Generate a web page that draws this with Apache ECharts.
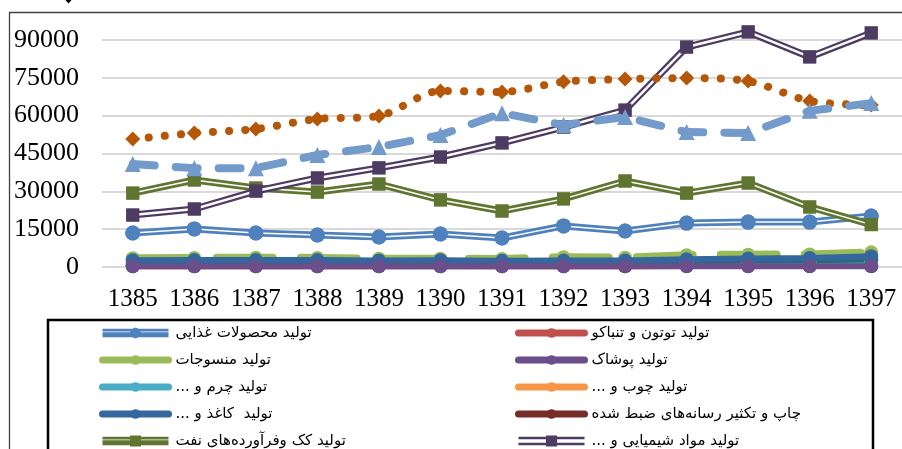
<!DOCTYPE html>
<html>
<head>
<meta charset="utf-8">
<script src="https://cdn.jsdelivr.net/npm/echarts@6/dist/echarts.min.js"></script>
<style>
  html, body { margin: 0; padding: 0; background: #fff; }
  #chart { width: 902px; height: 449px; }
</style>
</head>
<body>
<div id="chart" dir="rtl"></div>
<script>
// سال‌ها
const years = ['1385', '1386', '1387', '1388', '1389', '1390', '1391', '1392', '1393', '1394', '1395', '1396', '1397']

// مقادیر هر رشته
const food = [13500, 15100, 13500, 12700, 11900, 13100, 11500, 16300, 14300, 17400, 17800, 17800, 20200]
const tobacco = [700, 700, 750, 750, 800, 800, 800, 900, 900, 1000, 1100, 1100, 1200]
const textiles = [3500, 3600, 3700, 3600, 3300, 3300, 3200, 3900, 3700, 4700, 4900, 5000, 5800]
const apparel = [250, 250, 250, 250, 250, 250, 250, 250, 250, 250, 250, 250, 250]
const leather = [1300, 1300, 1400, 1400, 1400, 1400, 1300, 1500, 1500, 1900, 2100, 2100, 2300]
const wood = [900, 900, 950, 950, 900, 900, 900, 1000, 1000, 1100, 1200, 1200, 1300]
const paper = [2700, 2800, 2800, 2800, 2600, 2700, 2500, 2600, 2600, 3100, 3400, 3600, 4300]
const printing = [300, 300, 300, 300, 300, 300, 300, 300, 300, 350, 350, 350, 400]
const coke = [29300, 34500, 31300, 29700, 32900, 26600, 22200, 27000, 34100, 29300, 33300, 23800, 16800]
const chemicals = [20600, 23000, 30100, 35300, 39300, 43600, 49200, 55500, 62200, 87200, 93200, 83300, 92800]
const rubber = [1800, 1900, 1900, 1900, 1800, 1800, 1700, 1900, 1900, 2400, 2600, 2700, 3000]
const minerals = [50700, 53100, 54700, 58700, 59900, 69800, 69400, 73400, 74500, 74900, 73700, 65800, 64200]
const metals = [40800, 39200, 39200, 44400, 47600, 52300, 61000, 56300, 59500, 53500, 53100, 61900, 65000]

const names = {
  food: 'تولید محصولات غذایی',
  tobacco: 'تولید توتون و تنباکو',
  textiles: 'تولید منسوجات',
  apparel: 'تولید پوشاک',
  leather: 'تولید چرم و ...',
  wood: 'تولید چوب و ...',
  paper: 'تولید  کاغذ و ...',
  printing: 'چاپ و تکثیر رسانه‌های ضبط شده',
  coke: 'تولید کک وفرآورده‌های نفت',
  chemicals: 'تولید مواد شیمیایی و ...',
  rubber: 'تولید محصولات لاستیکی و پلاستیکی',
  minerals: 'تولید سایر محصولات کانی غیرفلزی',
  metals: 'تولید فلزات پایه'
}

function simpleLine(name, data, color, z, extra) {
  return Object.assign({
    name,
    type: 'line',
    data,
    z,
    clip: false,
    symbol: 'circle',
    symbolSize: 14,
    lineStyle: { color, width: 6, cap: 'round' },
    itemStyle: { color, borderWidth: 0 },
  }, extra || {})
}

// خط دوتایی: خط اصلی، خط سفید میانی، نشانگرها روی آن
function doubleLine(name, data, color, symbol, size, width, whiteWidth, z) {
  return [
    {
      name, type: 'line', data, z, clip: false, symbol, symbolSize: size,
      lineStyle: { color, width },
      itemStyle: { color, borderWidth: 0 }
    },
    {
      name: name + '_w', type: 'line', data, z: z + 1, clip: false, symbol: 'none',
      lineStyle: { color: '#fff', width: whiteWidth }
    },
    {
      name: name + '_m', type: 'line', data, z: z + 2, clip: false, symbol, symbolSize: size,
      lineStyle: { opacity: 0 },
      itemStyle: { color, borderWidth: 0 }
    }
  ]
}

const iconFood = 'path://M0,1.8H66V4.4H0Z M0,5.3H66V10.2H0Z M33,0.5L36.9,2.1L38.5,6L36.9,9.9L33,11.5L29.1,9.9L27.5,6L29.1,2.1Z'
const iconCoke = 'path://M0,1.8H66V4.4H0Z M0,5.3H66V10.2H0Z M27.5,0.5H38.5V11.5H27.5Z'
const iconChem = 'path://M0,1.8H66V4.3H0Z M0,7.7H66V10.2H0Z M27.5,0.5H38.5V11.5H27.5Z'
const plainIcon = { borderWidth: 0, borderColor: 'transparent' }

const legendBase = {
  orient: 'vertical',
  top: 324,
  height: 160,
  padding: 0,
  itemWidth: 66,
  itemHeight: 12,
  itemGap: 9,
  selectedMode: false,
  itemStyle: { borderWidth: 0 },
  lineStyle: { width: 7, cap: 'round', type: 'solid' },
  textStyle: {
    fontFamily: 'DejaVu Sans',
    fontSize: 15,
    lineHeight: 18,
    color: '#000',
    padding: [0, 0, 0, 2]
  }
}

const chart = echarts.init(document.getElementById('chart'), null, { renderer: 'canvas' })

chart.setOption({
  animation: false,
  backgroundColor: '#fff',
  grid: { left: 102, top: 40, width: 802, height: 227 },
  xAxis: {
    type: 'category',
    data: years,
    axisLine: { show: false },
    axisTick: { show: false },
    axisLabel: { interval: 0, margin: 20, color: '#000', fontSize: 25, fontFamily: 'Liberation Serif' }
  },
  yAxis: {
    type: 'value',
    min: 0,
    max: 90000,
    interval: 15000,
    axisLine: { show: false },
    axisTick: { show: false },
    axisLabel: {
      margin: 23, color: '#000', fontSize: 26, fontFamily: 'Liberation Serif',
      formatter: (v) => String(v)
    },
    splitLine: { lineStyle: { color: '#d9d9d9', width: 2 } }
  },
  legend: [
    Object.assign({}, legendBase, {
      left: 99,
      data: [
        { name: names.food, icon: iconFood, itemStyle: plainIcon },
        names.textiles,
        names.leather,
        names.paper,
        { name: names.coke, icon: iconCoke, itemStyle: plainIcon }
      ]
    }),
    Object.assign({}, legendBase, {
      left: 515,
      data: [
        names.tobacco,
        names.apparel,
        names.wood,
        names.printing,
        { name: names.chemicals, icon: iconChem, itemStyle: plainIcon }
      ]
    })
  ],
  graphic: [
    {
      type: 'polyline', silent: true,
      shape: { points: [[9.5, 449], [9.5, 12.5], [902, 12.5]] },
      style: { stroke: '#404040', lineWidth: 1.3, fill: null }
    },
    {
      type: 'rect', silent: true,
      shape: { x: 48, y: 320, width: 825, height: 200 },
      style: { stroke: '#000', lineWidth: 2.5, fill: null }
    },
    {
      type: 'polygon', silent: true,
      shape: { points: [[62, -4], [68.5, 3.5], [75, -4]] },
      style: { fill: '#000' }
    }
  ],
  series: [
    simpleLine(names.tobacco, tobacco, '#C0504D', 3),
    simpleLine(names.wood, wood, '#F79646', 3),
    simpleLine(names.printing, printing, '#772C2A', 3),
    simpleLine(names.leather, leather, '#4BACC6', 3),
    simpleLine(names.rubber, rubber, '#276A7C', 3),
    simpleLine(names.textiles, textiles, '#9BBB59', 4, {
      lineStyle: { color: '#9BBB59', width: 8, cap: 'round', type: [56, 28] }
    }),
    simpleLine(names.paper, paper, '#2C4D75', 5, {
      lineStyle: { color: '#35679F', width: 6, cap: 'round' },
      itemStyle: { color: '#35679F', borderWidth: 0 }
    }),
    simpleLine(names.apparel, apparel, '#8064A2', 6, {
      lineStyle: { color: '#6B4E8A', width: 6, cap: 'round' },
      itemStyle: { color: '#6B4E8A', borderWidth: 0 }
    }),
    ...doubleLine(names.food, food, '#4F81BD', 'circle', 15, 7, 1.5, 7),
    ...doubleLine(names.coke, coke, '#5F7530', 'rect', 13, 7, 1.5, 10),
    ...doubleLine(names.chemicals, chemicals, '#4D3B62', 'rect', 13, 7, 2.5, 13),
    simpleLine(names.minerals, minerals, '#B65708', 16, {
      symbol: 'diamond',
      symbolSize: 15,
      smooth: 0.3,
      lineStyle: { color: '#B65708', width: 8, cap: 'round', type: [0.1, 16] },
      itemStyle: { color: '#B65708', borderWidth: 0 }
    }),
    simpleLine(names.metals, metals, '#729ACA', 17, {
      symbol: 'triangle',
      symbolSize: 16,
      lineStyle: { color: '#729ACA', width: 8, cap: 'round', type: [22, 21] },
      itemStyle: { color: '#729ACA', borderWidth: 0 }
    })
  ]
})
</script>
</body>
</html>
